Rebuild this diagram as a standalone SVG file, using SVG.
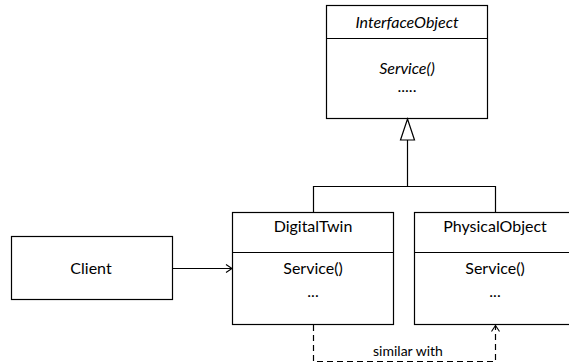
<svg xmlns="http://www.w3.org/2000/svg" width="569" height="363" viewBox="0 0 569 363">
<style>
.box{fill:#fff;stroke:#000;stroke-width:1.2}
.ln{fill:none;stroke:#000;stroke-width:1.2}
.t{font-family:Lato,"Open Sans","Liberation Sans",sans-serif;font-size:16px;fill:#000;text-anchor:middle}
.i{font-style:italic}
.s{font-size:14px}
</style>
<defs>
<marker id="open" markerWidth="10" markerHeight="10" refX="9" refY="5" orient="auto" markerUnits="userSpaceOnUse">
<path d="M3,1 L9,5 L3,9" fill="none" stroke="#000" stroke-width="1.1"/>
</marker>
</defs>
<g id="InterfaceObject">
<rect class="box" x="326.5" y="5.5" width="161" height="113"/>
<line class="ln" x1="326.5" y1="38.5" x2="487.5" y2="38.5"/>
<text class="t i" x="407" y="28">InterfaceObject</text>
<text class="t i" x="407" y="74">Service()</text>
<text class="t" x="407" y="92">.....</text>
</g>
<g id="DigitalTwin">
<rect class="box" x="232.5" y="212.5" width="161" height="112"/>
<line class="ln" x1="232.5" y1="252.5" x2="393.5" y2="252.5"/>
<text class="t" x="313" y="232">DigitalTwin</text>
<text class="t" x="313" y="274">Service()</text>
<text class="t" x="313" y="297">...</text>
</g>
<g id="PhysicalObject">
<rect class="box" x="414.5" y="212.5" width="161" height="112"/>
<line class="ln" x1="414.5" y1="252.5" x2="575.5" y2="252.5"/>
<text class="t" x="495" y="232">PhysicalObject</text>
<text class="t" x="495" y="274">Service()</text>
<text class="t" x="495" y="297">...</text>
</g>
<g id="Client">
<rect class="box" x="11.5" y="236.5" width="161" height="63"/>
<text class="t" x="91" y="274">Client</text>
</g>
<g id="connectors">
<polyline class="ln" points="313.5,212 313.5,186.5 495.5,186.5 495.5,212"/>
<line class="ln" x1="407.5" y1="186.5" x2="407.5" y2="140"/>
<polygon points="407.5,119 400.5,140 414.5,140" fill="#fff" stroke="#000" stroke-width="1.2"/>
<line class="ln" x1="172.5" y1="268.5" x2="232" y2="268.5" marker-end="url(#open)"/>
<polyline class="ln" points="313.5,325 313.5,361.5 495.5,361.5 495.5,325.5" stroke-dasharray="6,4" marker-end="url(#open)"/>
<text class="t s" x="408" y="356">similar with</text>
</g>
</svg>
